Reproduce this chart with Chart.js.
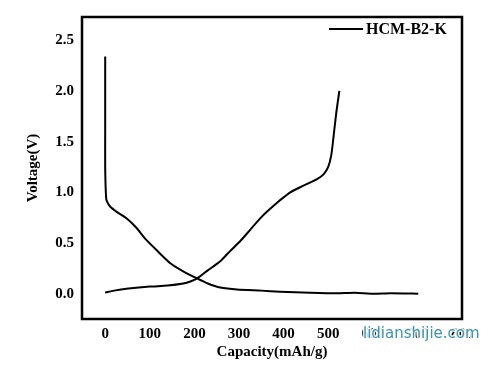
<!DOCTYPE html>
<html>
<head>
<meta charset="utf-8">
<script src="https://cdn.jsdelivr.net/npm/chart.js@4.4.1/dist/chart.umd.min.js"></script>
<style>
  html, body { margin: 0; padding: 0; background: #fff; }
  #wrap { width: 503px; height: 366px; }
</style>
</head>
<body>
<div id="wrap"><canvas id="curve"></canvas></div>
<script>
// discharge curve (capacity mAh/g, voltage V)
var dischargeCap = [0, 0, 0, 2, 4, 11, 25, 49, 70, 90, 115, 146, 175, 206, 230, 258, 296, 350, 392, 460, 520, 560, 600, 640, 702];
var dischargeV   = [2.34, 1.60, 1.24, 0.95, 0.91, 0.86, 0.81, 0.74, 0.65, 0.54, 0.43, 0.30, 0.22, 0.15, 0.10, 0.06, 0.04, 0.03, 0.02, 0.01, 0.005, 0.01, 0.0, 0.005, 0.0];
// charge curve
var chargeCap = [0, 20, 52, 100, 140, 175, 191, 206, 230, 258, 280, 303, 325, 347, 363, 386, 400, 415, 437, 475, 490, 500, 507, 512, 518, 525];
var chargeV   = [0.01, 0.03, 0.05, 0.07, 0.08, 0.10, 0.12, 0.15, 0.23, 0.32, 0.42, 0.52, 0.63, 0.74, 0.81, 0.90, 0.95, 1.00, 1.05, 1.13, 1.18, 1.25, 1.37, 1.55, 1.78, 2.0];

var xTicks = [0, 100, 200, 300, 400, 500, 600, 700, 800];
var yTicks = [0.0, 0.5, 1.0, 1.5, 2.0, 2.5];
var seriesName = 'HCM-B2-K';

function pairs(xs, ys) {
    return xs.map(function (x, i) { return { x: x, y: ys[i] }; });
}

var serif = "'Liberation Serif', 'Times New Roman', serif";

var framePlugin = {
    id: 'frame',
    afterDraw: function (chart) {
        var ctx = chart.ctx, a = chart.chartArea;
        ctx.save();
        ctx.strokeStyle = '#000';
        ctx.lineWidth = 2.5;
        ctx.strokeRect(a.left, a.top, a.right - a.left, a.bottom - a.top);

        // legend inside top right
        ctx.lineWidth = 2;
        ctx.beginPath();
        ctx.moveTo(329, 29);
        ctx.lineTo(363, 29);
        ctx.stroke();
        ctx.fillStyle = '#000';
        ctx.font = 'bold 16px ' + serif;
        ctx.textBaseline = 'middle';
        ctx.fillText(seriesName, 366, 30);

        // watermark
        ctx.font = '15px "DejaVu Sans", sans-serif';
        ctx.lineWidth = 3;
        ctx.strokeStyle = 'rgba(255,255,255,0.9)';
        ctx.strokeText('lidianshijie.com', 363, 334);
        ctx.fillStyle = '#3f93ad';
        ctx.fillText('lidianshijie.com', 363, 334);
        ctx.restore();
    }
};

var config = {
    type: 'scatter',
    data: {
        datasets: [{
            label: seriesName,
            data: pairs(dischargeCap, dischargeV),
            showLine: true,
            borderColor: '#000',
            borderWidth: 2,
            pointRadius: 0,
            tension: 0.2
        }, {
            label: seriesName,
            data: pairs(chargeCap, chargeV),
            showLine: true,
            borderColor: '#000',
            borderWidth: 2,
            pointRadius: 0,
            tension: 0.25
        }]
    },
    options: {
        responsive: true,
        maintainAspectRatio: false,
        animation: false,
        layout: { padding: { left: 0, top: 12, right: 41, bottom: 0 } },
        plugins: {
            legend: { display: false },
            tooltip: { enabled: false }
        },
        scales: {
            x: {
                type: 'linear',
                min: -52,
                max: 800,
                grid: { display: false, drawTicks: false },
                border: { display: false },
                afterBuildTicks: function (scale) {
                    scale.ticks = xTicks.map(function (v) { return { value: v }; });
                },
                afterFit: function (scale) { scale.height = 47; },
                ticks: {
                    color: '#000',
                    padding: 6,
                    maxRotation: 0,
                    font: { family: serif, size: 15, weight: 'bold' }
                },
                title: {
                    display: true,
                    text: 'Capacity(mAh/g)',
                    color: '#000',
                    padding: { top: 0, bottom: 5 },
                    font: { family: serif, size: 15, weight: 'bold' }
                }
            },
            y: {
                type: 'linear',
                min: -0.25,
                max: 2.73,
                grid: { display: false, drawTicks: false },
                border: { display: false },
                afterBuildTicks: function (scale) {
                    scale.ticks = yTicks.map(function (v) { return { value: v }; });
                },
                afterFit: function (scale) { scale.width = 82; },
                ticks: {
                    color: '#000',
                    padding: 8,
                    font: { family: serif, size: 15, weight: 'bold' },
                    callback: function (v) { return Number(v).toFixed(1); }
                },
                title: {
                    display: true,
                    text: 'Voltage(V)',
                    color: '#000',
                    padding: { top: 24, bottom: 0 },
                    font: { family: serif, size: 15, weight: 'bold' }
                }
            }
        }
    },
    plugins: [framePlugin]
};

window.onload = function () {
    var ctx = document.getElementById('curve').getContext('2d');
    window.myCurve = new Chart(ctx, config);
};
</script>
</body>
</html>
